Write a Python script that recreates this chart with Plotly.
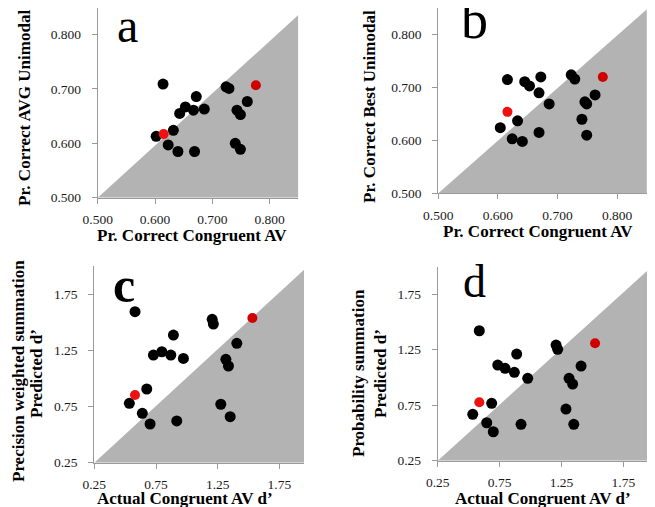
import plotly.graph_objects as go

# The page body adds an 8px margin, so the figure is shifted by OFF pixels;
# reference pixel positions are converted to figure coordinates accordingly.
OFF = 8
W, H = 655 - OFF, 507 - OFF

def fx(px):
    return min(1.0, max(0.0, (px - OFF) / W))

def fy(py):
    return min(1.0, max(0.0, 1 - (py - OFF) / H))

# ---------------- data ----------------
# Panel a: Pr. Correct Congruent AV vs Pr. Correct AVG Unimodal
a_black_x = [0.614, 0.724, 0.729, 0.672, 0.653, 0.643, 0.667, 0.686, 0.761, 0.743,
             0.749, 0.632, 0.602, 0.623, 0.640, 0.669, 0.740, 0.749]
a_black_y = [0.709, 0.704, 0.701, 0.686, 0.667, 0.655, 0.661, 0.663, 0.677, 0.661,
             0.653, 0.624, 0.613, 0.597, 0.585, 0.585, 0.600, 0.589]
a_red_x = [0.776, 0.615]
a_red_y = [0.707, 0.617]

# Panel b: Pr. Correct Congruent AV vs Pr. Correct Best Unimodal
b_black_x = [0.616, 0.645, 0.653, 0.672, 0.669, 0.723, 0.729, 0.686, 0.633, 0.604,
             0.624, 0.641, 0.669, 0.763, 0.746, 0.749, 0.741, 0.749]
b_black_y = [0.715, 0.711, 0.703, 0.720, 0.690, 0.724, 0.716, 0.669, 0.637, 0.624,
             0.603, 0.598, 0.615, 0.686, 0.673, 0.669, 0.640, 0.610]
b_red_x = [0.776, 0.616]
b_red_y = [0.720, 0.654]

# Panel c: Actual Congruent AV d' vs Precision weighted summation predicted d'
c_black_x = [0.580, 1.205, 1.215, 0.891, 1.405, 0.729, 0.797, 0.870, 0.972, 1.316,
             1.337, 0.675, 0.534, 0.639, 0.702, 0.918, 1.275, 1.351]
c_black_y = [1.596, 1.528, 1.486, 1.388, 1.314, 1.210, 1.239, 1.210, 1.180, 1.172,
             1.112, 0.907, 0.779, 0.690, 0.595, 0.622, 0.771, 0.660]
c_red_x = [1.531, 0.580]
c_red_y = [1.540, 0.853]

# Panel d: Actual Congruent AV d' vs Probability summation predicted d'
d_black_x = [1.206, 1.219, 0.888, 0.735, 0.794, 0.869, 0.977, 1.408, 1.311, 1.340,
             1.286, 0.923, 1.349, 0.586, 0.686, 0.533, 0.646, 0.699]
d_black_y = [1.292, 1.254, 1.211, 1.112, 1.082, 1.046, 0.992, 1.103, 0.992, 0.941,
             0.715, 0.578, 0.578, 1.421, 0.767, 0.668, 0.592, 0.511]
d_red_x = [1.521, 0.586]
d_red_y = [1.308, 0.776]

prop_ticks = [0.5, 0.6, 0.7, 0.8]
prop_labels = ["0.500", "0.600", "0.700", "0.800"]
dp_ticks = [0.25, 0.75, 1.25, 1.75]
dp_labels = ["0.25", "0.75", "1.25", "1.75"]

# ---------------- layout specs ----------------
panels = [
    dict(letter="a", bx=a_black_x, by=a_black_y, rx=a_red_x, ry=a_red_y,
         xpx=(97.7, 298.3), ypx=(197.7, 8.0), xr=(0.5, 0.85), yr=(0.5, 0.849), tri=0.836,
         ticks=prop_ticks, labels=prop_labels, letter_pos=(127, 25), letter_size=48,
         letter_bold=False,
         xtitle="Pr. Correct Congruent AV", xtitle_pos=(192, 235),
         ytitles=[("Pr. Correct AVG Unimodal", (25, 108))]),
    dict(letter="b", bx=b_black_x, by=b_black_y, rx=b_red_x, ry=b_red_y,
         xpx=(438.3, 646.9), ypx=(193.3, 8.2), xr=(0.5, 0.85), yr=(0.5, 0.85), tri=0.848,
         ticks=prop_ticks, labels=prop_labels, letter_pos=(474, 20), letter_size=54,
         letter_bold=False,
         xtitle="Pr. Correct Congruent AV", xtitle_pos=(538, 231),
         ytitles=[("Pr. Correct Best Unimodal", (370, 107))]),
    dict(letter="c", bx=c_black_x, by=c_black_y, rx=c_red_x, ry=c_red_y,
         xpx=(94.3, 304.1), ypx=(462.7, 266.4), xr=(0.25, 1.95), yr=(0.25, 2.0), tri=1.97,
         ticks=dp_ticks, labels=dp_labels, letter_pos=(124, 285), letter_size=50,
         letter_bold=True,
         xtitle="Actual Congruent AV d\u2019", xtitle_pos=(185, 498),
         ytitles=[("Precision weighted summation", (18, 371)), ("Predicted d\u2019", (36, 374))]),
    dict(letter="d", bx=d_black_x, by=d_black_y, rx=d_red_x, ry=d_red_y,
         xpx=(437.7, 651.9), ypx=(460.7, 266.5), xr=(0.25, 1.98), yr=(0.25, 2.0), tri=2.0,
         ticks=dp_ticks, labels=dp_labels, letter_pos=(474, 281), letter_size=46,
         letter_bold=False,
         xtitle="Actual Congruent AV d\u2019", xtitle_pos=(543, 498),
         ytitles=[("Probability summation", (358, 373)), ("Predicted d\u2019", (380, 374))]),
]

SERIF = "Liberation Serif, Times New Roman, serif"
AXIS_COLOR = "#9a9a9a"
GRAY_FILL = "#b3b3b3"

fig = go.Figure()
layout = dict(
    width=W, height=H,
    margin=dict(l=0, r=0, t=0, b=0, pad=0, autoexpand=False),
    paper_bgcolor="white", plot_bgcolor="rgba(0,0,0,0)",
    showlegend=False,
    font=dict(family=SERIF, color="#1a1a1a"),
)
annotations = []

for i, p in enumerate(panels):
    n = "" if i == 0 else str(i + 1)
    xa, ya = "x" + n, "y" + n
    x0, x1 = p["xr"]
    y0, y1 = p["yr"]
    # gray region below diagonal
    fig.add_trace(go.Scatter(
        x=[x0, x1, x1, x0], y=[y0, y0, p["tri"], y0],
        mode="lines", fill="toself", fillcolor=GRAY_FILL,
        line=dict(width=0, color=GRAY_FILL), hoverinfo="skip",
        xaxis=xa, yaxis=ya))
    fig.add_trace(go.Scatter(
        x=p["bx"], y=p["by"], mode="markers",
        marker=dict(color="black", size=11, line=dict(width=0)),
        xaxis=xa, yaxis=ya))
    fig.add_trace(go.Scatter(
        x=p["rx"], y=p["ry"], mode="markers",
        marker=dict(color=["#d00000", "#f01010"], size=10, line=dict(width=0)),
        xaxis=xa, yaxis=ya))

    common = dict(
        showgrid=False, zeroline=False, showline=True, linecolor=AXIS_COLOR,
        linewidth=1, ticks="outside", ticklen=5, tickcolor=AXIS_COLOR, tickwidth=1,
        tickfont=dict(family=SERIF, size=13.5, color="#1a1a1a"),
        tickmode="array", tickvals=p["ticks"], ticktext=p["labels"],
        fixedrange=True, automargin=False,
    )
    layout["xaxis" + n] = dict(
        common, domain=[fx(p["xpx"][0]), fx(p["xpx"][1])], range=list(p["xr"]),
        anchor=ya, ticklabelstandoff=4)
    layout["yaxis" + n] = dict(
        common, domain=[fy(p["ypx"][0]), fy(p["ypx"][1])], range=list(p["yr"]),
        anchor=xa, ticklabelstandoff=8)

    lx, ly = p["letter_pos"]
    letter_text = "<b>%s</b>" % p["letter"] if p["letter_bold"] else p["letter"]
    annotations.append(dict(
        text=letter_text, x=(lx - OFF) / W, y=1 - (ly - OFF) / H,
        xref="paper", yref="paper",
        xanchor="center", yanchor="middle", showarrow=False,
        font=dict(family=SERIF, size=p["letter_size"], color="black")))
    tx, ty = p["xtitle_pos"]
    annotations.append(dict(
        text="<b>%s</b>" % p["xtitle"], x=(tx - OFF) / W, y=1 - (ty - OFF) / H,
        xref="paper", yref="paper",
        xanchor="center", yanchor="middle", showarrow=False,
        font=dict(family=SERIF, size=17, color="black")))
    for t, (yx, yy) in p["ytitles"]:
        annotations.append(dict(
            text="<b>%s</b>" % t, x=(yx - OFF) / W, y=1 - (yy - OFF) / H,
            xref="paper", yref="paper",
            xanchor="center", yanchor="middle", showarrow=False, textangle=-90,
            font=dict(family=SERIF, size=17, color="black")))

layout["annotations"] = annotations
fig.update_layout(**layout)
fig.write_html("out.html")
